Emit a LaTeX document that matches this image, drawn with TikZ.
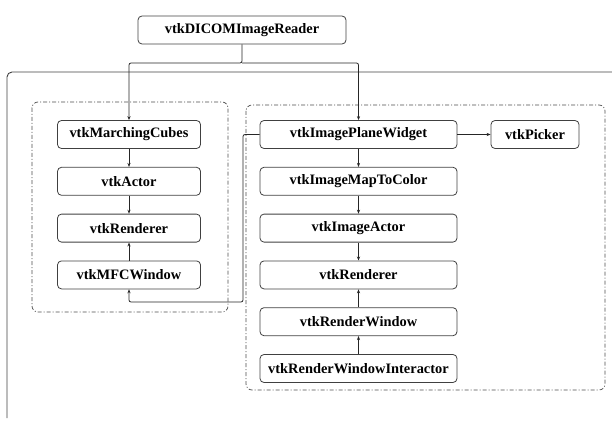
\documentclass[tikz,border=0pt]{standalone}
\usepackage{fontspec}
\setmainfont{Liberation Serif}
\usetikzlibrary{positioning, arrows.meta}

\begin{document}
\begin{tikzpicture}[
      x=1pt, y=-1pt,
      cls/.style={draw=black!75, line width=0.8pt, rounded corners=4pt, minimum height=28pt, inner sep=0pt,
        font=\fontsize{14.4}{16}\selectfont\bfseries},
      lcls/.style={cls, minimum width=143pt},
      rcls/.style={cls, minimum width=197pt},
      arr/.style={draw=black!85, line width=0.8pt, -{Stealth[length=4pt,width=3.2pt]}, rounded corners=2pt},
      grp/.style={draw=black!70, line width=0.7pt, dash pattern=on 4pt off 2pt on 1pt off 2pt, rounded corners=6pt}
    ]
    \useasboundingbox (0,0) rectangle (612,422);
    % outer frame
    \draw[black!75, line width=0.9pt, rounded corners=5pt] (7,418) -- (7,72) -- (612,72);
    % groups
    \draw[grp] (32,102) rectangle (228,312);
    \draw[grp] (246,105) rectangle (605,390);

    \node[cls, minimum width=208pt] (reader) at (242,30) {vtkDICOMImageReader};
    % surface pipeline
    \node[lcls] (mc) at (129,134.5) {vtkMarchingCubes};
    \node[lcls] (act) [below=18pt of mc] {vtkActor};
    \node[lcls] (lren) [below=18pt of act] {vtkRenderer};
    \node[lcls] (mfc) [below=18pt of lren] {vtkMFCWindow};
    % slice pipeline
    \node[rcls] (ipw) at (358.5,134.5) {vtkImagePlaneWidget};
    \node[rcls] (map) [below=18pt of ipw] {vtkImageMapToColor};
    \node[rcls] (iact) [below=18pt of map] {vtkImageActor};
    \node[rcls] (rren) [below=18pt of iact] {vtkRenderer};
    \node[rcls] (rwin) [below=18pt of rren] {vtkRenderWindow};
    \node[rcls] (inter) [below=18pt of rwin] {vtkRenderWindowInteractor};
    \node[cls, minimum width=88pt] (pick) at (535,134.5) {vtkPicker};

    \coordinate (split) at (242,63);
    \coordinate (loop) at (243,302);
    \draw[arr] (reader) -- (split) -| (mc);
    \draw[arr] (split) -| (ipw);
    \draw[arr] (mc) -- (act);
    \draw[arr] (act) -- (lren);
    \draw[arr] (mfc) -- (lren);
    \draw[arr] (ipw) -- (pick);
    \draw[arr] (ipw) -- (map);
    \draw[arr] (map) -- (iact);
    \draw[arr] (iact) -- (rren);
    \draw[arr] (rwin) -- (rren);
    \draw[arr] (inter) -- (rwin);
    \draw[arr] (ipw) -| (loop) -| (mfc);
  \end{tikzpicture}
\end{document}
